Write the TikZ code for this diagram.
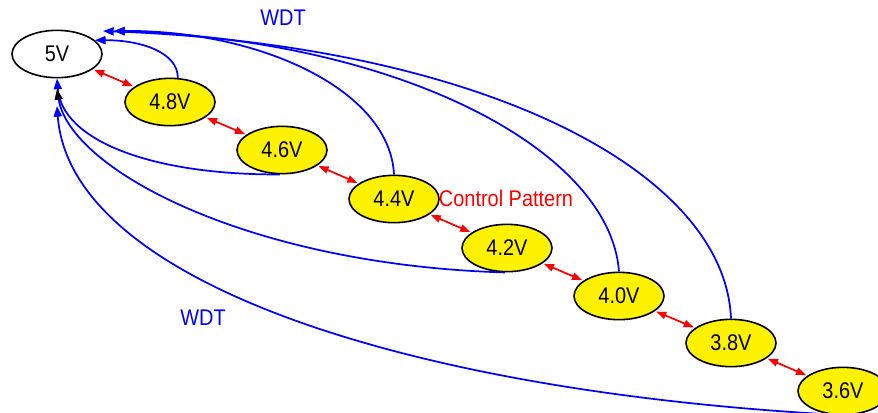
\documentclass[tikz,border=0pt]{standalone}
\usepackage{fontspec}
\setmainfont{Liberation Sans}[FakeStretch=0.88]
\usepackage{tikz}
\usetikzlibrary{shapes,arrows.meta,positioning,calc}

\begin{document}
\begin{tikzpicture}[x=0.75pt, y=-0.75pt,
    volt/.style={ellipse, draw, line width=1.2pt, fill=yellow, minimum width=67.5pt,
        minimum height=35.5pt, inner sep=0pt, font=\fontsize{17}{19}\selectfont},
    pat/.style={red, line width=1.3pt, shorten <=1pt, shorten >=1pt,
        {Triangle[length=7.5pt,width=5.5pt]}-{Triangle[length=7.5pt,width=5.5pt]}},
    wdt/.style={blue, line width=1.3pt, -{Triangle[length=8pt,width=6pt]}},
    lbl/.style={font=\fontsize{17}{19}\selectfont, inner sep=0pt}]
    \clip (0,0) rectangle (878,412);

    % voltage steps
    \node[volt, fill=white] (v50) at (57,54) {5V};
    \node[volt] (v48) at (170,102) {4.8V};
    \node[volt] (v46) at (282,150) {4.6V};
    \node[volt] (v44) at (394,199) {4.4V};
    \node[volt] (v42) at (507,248) {4.2V};
    \node[volt] (v40) at (619,296) {4.0V};
    \node[volt] (v38) at (731,343) {3.8V};
    \node[volt] (v36) at (843,391) {3.6V};

    % stacked arrow ends at 5V
    \coordinate (topa) at (103,31);
    \coordinate (topb) at (114,31);
    \coordinate (bota) at (57,89);
    \coordinate (botb) at (57,106);

    % control pattern
    \draw[pat] (v50) -- (v48);
    \draw[pat] (v48) -- (v46);
    \draw[pat] (v46) -- (v44);
    \draw[pat] (v44) -- (v42);
    \draw[pat] (v42) -- (v40);
    \draw[pat] (v40) -- (v38);
    \draw[pat] (v38) -- (v36);

    % watchdog resets
    \draw[wdt] (v48.72) .. controls (178,52) and (140,40) .. (v50.20);
    \draw[wdt] (v44.north) .. controls (390,90) and (260,30) .. (topb);
    \draw[wdt] (v40.north) .. controls (610,150) and (400,40) .. (topb);
    \draw[wdt] (v38.north) .. controls (725,170) and (480,45) .. (topa);
    \draw[wdt] (v46.265) .. controls (150,175) and (62,140) .. (v50.south);
    \draw[blue, line width=1.3pt, -{Triangle[length=8pt,width=6pt,black]}]
        (v42.265) .. controls (250,265) and (70,170) .. (bota);
    \draw[wdt] (v36.240) .. controls (400,390) and (70,280) .. (botb);

    \node[lbl, blue] (wdta) at (283,18) {WDT};
    \node[lbl, blue] (wdtb) at (203,318) {WDT};
    \node[lbl, red] (ctrl) at (506,198) {Control Pattern};
\end{tikzpicture}
\end{document}
